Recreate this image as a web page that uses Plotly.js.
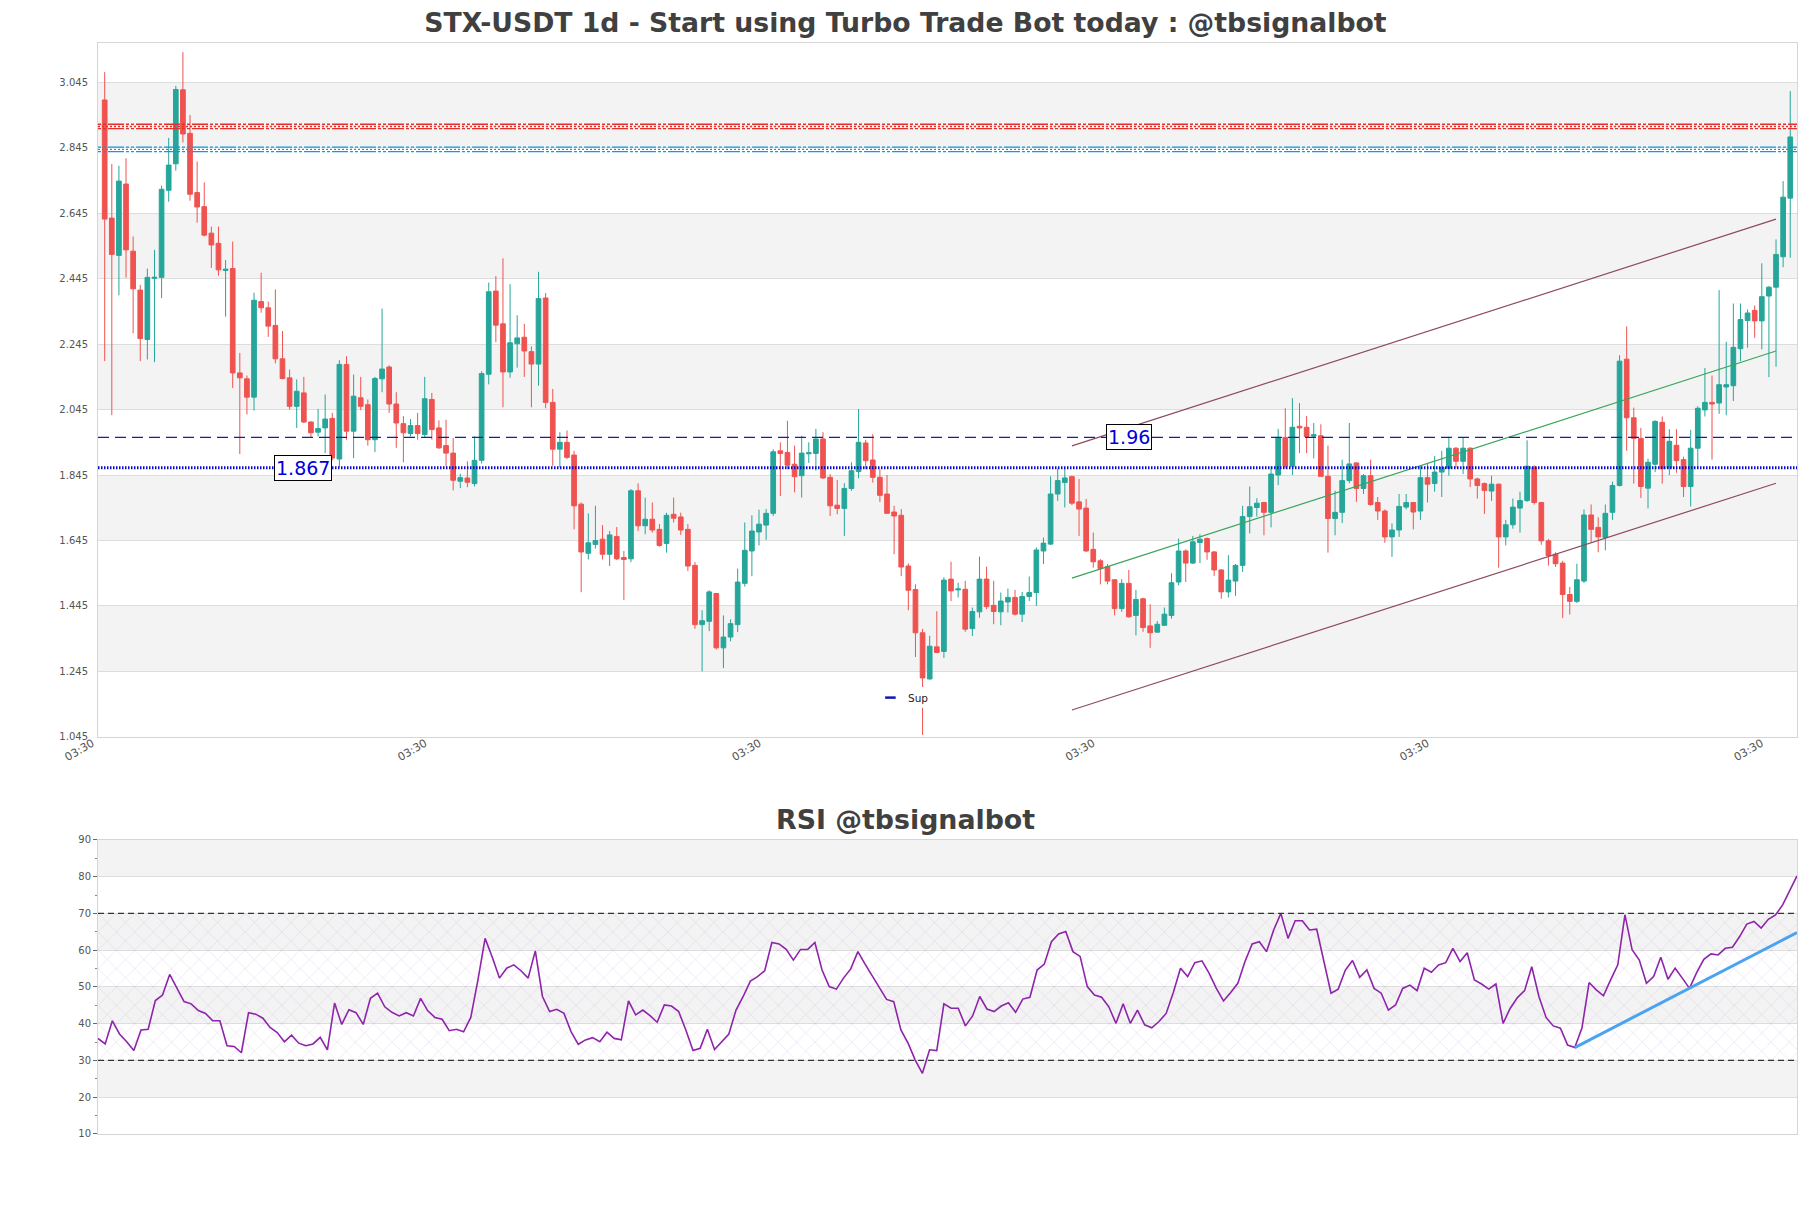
<!DOCTYPE html>
<html><head><meta charset="utf-8">
<script src="https://cdn.plot.ly/plotly-3.0.1.min.js"></script>
<style>html,body{margin:0;padding:0;background:#fff}#chart{width:1811px;height:1208px}</style>
</head><body><div id="chart"></div>
<script>
// ---------------- DATA ----------------
const opens = [2.991,2.630,2.516,2.734,2.529,2.410,2.259,2.446,2.449,2.715,
2.796,3.022,2.889,2.708,2.665,2.584,2.553,2.470,2.476,2.157,
2.139,2.083,2.375,2.356,2.302,2.200,2.142,2.055,2.096,2.007,
1.976,1.989,2.018,1.894,2.183,1.979,2.081,2.060,1.953,2.139,
2.175,2.062,2.002,1.972,1.996,1.969,2.076,1.989,1.935,1.912,
1.826,1.836,1.819,1.890,2.153,2.407,2.307,2.160,2.246,2.266,
2.222,2.184,2.386,2.067,1.924,1.945,1.906,1.756,1.606,1.633,
1.649,1.603,1.657,1.593,1.589,1.797,1.690,1.710,1.679,1.636,
1.725,1.717,1.679,1.569,1.388,1.398,1.483,1.317,1.350,1.388,
1.514,1.613,1.671,1.692,1.728,1.919,1.914,1.878,1.843,1.910,
1.911,1.955,1.838,1.753,1.743,1.804,1.856,1.943,1.891,1.838,
1.787,1.732,1.722,1.567,1.495,1.363,1.222,1.320,1.306,1.527,
1.494,1.496,1.376,1.427,1.527,1.447,1.427,1.457,1.471,1.420,
1.474,1.486,1.613,1.634,1.787,1.822,1.840,1.763,1.744,1.618,
1.583,1.565,1.525,1.437,1.514,1.416,1.467,1.384,1.365,1.386,
1.416,1.518,1.613,1.576,1.639,1.651,1.610,1.555,1.488,1.521,
1.569,1.718,1.746,1.761,1.731,1.845,1.960,1.872,1.994,1.991,
1.964,1.965,1.841,1.712,1.731,1.828,1.882,1.804,1.843,1.761,
1.735,1.656,1.677,1.747,1.761,1.735,1.837,1.819,1.854,1.866,
1.927,1.887,1.927,1.833,1.819,1.796,1.817,1.656,1.693,1.744,
1.767,1.869,1.761,1.644,1.603,1.576,1.480,1.459,1.521,1.723,
1.685,1.654,1.731,1.813,2.199,2.020,1.957,1.805,1.878,2.006,
1.866,1.936,1.892,1.810,1.927,2.044,2.067,2.065,2.114,2.118,
2.231,2.317,2.348,2.316,2.392,2.419,2.512,2.691];
const highs = [3.076,2.795,2.790,2.813,2.574,2.426,2.476,2.533,2.729,2.875,
3.034,3.137,2.945,2.803,2.739,2.604,2.604,2.502,2.558,2.218,
2.149,2.402,2.463,2.375,2.412,2.285,2.167,2.137,2.145,2.009,
2.047,2.091,2.035,2.196,2.208,2.152,2.145,2.076,2.145,2.354,
2.180,2.098,2.025,2.016,2.035,2.145,2.096,2.012,2.014,1.958,
1.849,1.887,1.963,2.162,2.433,2.453,2.507,2.428,2.333,2.307,
2.238,2.466,2.401,2.108,1.976,1.981,1.919,1.761,1.728,1.751,
1.692,1.674,1.686,1.613,1.802,1.820,1.776,1.761,1.695,1.730,
1.776,1.730,1.695,1.579,1.432,1.493,1.485,1.416,1.404,1.559,
1.700,1.722,1.739,1.741,1.924,1.945,2.011,1.935,1.965,1.945,
1.986,1.976,1.848,1.830,1.820,1.884,2.047,1.953,1.970,1.863,
1.845,1.751,1.741,1.575,1.511,1.375,1.354,1.429,1.533,1.580,
1.516,1.522,1.440,1.596,1.565,1.522,1.486,1.498,1.494,1.488,
1.535,1.624,1.654,1.841,1.865,1.865,1.843,1.833,1.772,1.669,
1.588,1.573,1.527,1.527,1.555,1.494,1.470,1.450,1.399,1.440,
1.545,1.651,1.618,1.659,1.664,1.654,1.613,1.557,1.600,1.573,
1.751,1.810,1.774,1.763,1.872,1.986,2.049,2.080,2.065,2.025,
2.004,2.000,1.935,1.797,1.892,2.004,1.884,1.848,1.892,1.778,
1.740,1.697,1.787,1.787,1.763,1.872,1.880,1.903,1.919,1.962,
1.930,1.960,1.930,1.837,1.822,1.843,1.819,1.708,1.773,1.794,
1.951,1.875,1.763,1.650,1.609,1.583,1.503,1.574,1.740,1.755,
1.716,1.755,1.825,2.211,2.299,2.051,1.989,1.895,2.012,2.024,
1.985,1.985,1.901,1.983,2.055,2.172,2.149,2.410,2.252,2.369,
2.369,2.351,2.363,2.492,2.422,2.565,2.743,3.018];
const lows = [2.193,2.028,2.394,2.448,2.278,2.193,2.198,2.190,2.386,2.680,
2.775,2.861,2.683,2.616,2.574,2.478,2.454,2.329,2.111,1.909,
2.030,2.042,2.341,2.267,2.186,2.137,2.045,1.989,2.004,1.961,
1.963,1.912,1.890,1.869,1.953,1.897,2.043,1.935,1.915,2.098,
2.035,1.928,1.884,1.963,1.953,1.961,1.953,1.925,1.872,1.798,
1.805,1.808,1.810,1.880,2.122,2.251,2.052,2.142,2.173,2.145,
2.052,2.118,2.049,1.873,1.868,1.894,1.679,1.487,1.587,1.620,
1.587,1.567,1.585,1.463,1.579,1.674,1.664,1.669,1.626,1.608,
1.700,1.662,1.552,1.375,1.245,1.368,1.312,1.255,1.337,1.365,
1.504,1.536,1.630,1.647,1.720,1.781,1.863,1.792,1.776,1.882,
1.858,1.833,1.720,1.725,1.659,1.797,1.835,1.863,1.822,1.763,
1.728,1.603,1.536,1.432,1.289,1.051,1.220,1.301,1.286,1.460,
1.471,1.366,1.353,1.409,1.435,1.389,1.386,1.425,1.416,1.396,
1.460,1.445,1.573,1.631,1.766,1.746,1.753,1.659,1.610,1.562,
1.511,1.511,1.416,1.427,1.409,1.355,1.366,1.317,1.363,1.384,
1.406,1.508,1.518,1.573,1.576,1.586,1.537,1.467,1.471,1.476,
1.549,1.667,1.718,1.661,1.685,1.814,1.865,1.845,1.912,1.912,
1.896,1.841,1.608,1.661,1.698,1.820,1.763,1.787,1.751,1.708,
1.638,1.595,1.656,1.740,1.679,1.708,1.761,1.794,1.778,1.843,
1.866,1.848,1.808,1.773,1.726,1.766,1.562,1.630,1.681,1.669,
1.763,1.755,1.632,1.568,1.564,1.408,1.419,1.454,1.515,1.638,
1.609,1.615,1.708,1.810,1.919,1.819,1.775,1.743,1.854,1.819,
1.845,1.852,1.778,1.749,1.866,2.024,1.892,2.032,2.028,2.071,
2.193,2.234,2.264,2.229,2.144,2.176,2.480,2.509];
const closes = [2.627,2.519,2.743,2.533,2.414,2.262,2.449,2.449,2.718,2.792,
3.023,2.887,2.703,2.664,2.578,2.548,2.472,2.474,2.157,2.142,
2.083,2.379,2.356,2.300,2.200,2.140,2.055,2.101,2.007,1.974,
1.987,2.016,1.897,2.183,1.979,2.086,2.055,1.953,2.140,2.169,
2.062,2.004,1.974,1.996,1.972,2.078,1.984,1.928,1.912,1.829,
1.837,1.823,1.890,2.155,2.405,2.303,2.160,2.249,2.264,2.224,
2.184,2.384,2.067,1.924,1.945,1.899,1.751,1.610,1.638,1.645,
1.603,1.662,1.589,1.587,1.797,1.690,1.710,1.677,1.630,1.722,
1.713,1.677,1.567,1.388,1.400,1.488,1.317,1.350,1.391,1.518,
1.615,1.674,1.695,1.728,1.916,1.911,1.875,1.840,1.912,1.913,
1.955,1.836,1.751,1.743,1.804,1.858,1.945,1.889,1.838,1.783,
1.728,1.720,1.564,1.493,1.363,1.225,1.322,1.303,1.524,1.491,
1.497,1.374,1.428,1.527,1.443,1.428,1.460,1.471,1.420,1.474,
1.486,1.616,1.637,1.787,1.828,1.836,1.759,1.741,1.613,1.580,
1.559,1.521,1.437,1.514,1.412,1.465,1.379,1.363,1.389,1.420,
1.516,1.613,1.576,1.641,1.649,1.610,1.555,1.488,1.524,1.569,
1.718,1.748,1.759,1.731,1.848,1.960,1.872,1.991,1.989,1.963,
1.968,1.841,1.712,1.731,1.828,1.879,1.804,1.843,1.755,1.735,
1.656,1.677,1.749,1.761,1.732,1.837,1.817,1.854,1.868,1.927,
1.887,1.927,1.833,1.813,1.798,1.817,1.656,1.693,1.747,1.767,
1.872,1.761,1.644,1.599,1.574,1.480,1.459,1.525,1.723,1.679,
1.656,1.728,1.813,2.193,2.020,1.957,1.810,1.884,2.009,1.864,
1.948,1.889,1.810,1.927,2.049,2.067,2.062,2.121,2.121,2.235,
2.320,2.340,2.316,2.390,2.419,2.519,2.694,2.878];
const rsi = [36.0,34.5,40.8,37.2,35.1,32.7,38.3,38.5,46.3,47.8,
53.4,49.9,46.0,45.4,43.6,42.8,40.8,40.8,34.0,33.8,
32.1,43.0,42.6,41.5,39.0,37.6,35.1,36.9,34.7,34.0,
34.5,36.3,32.9,45.6,39.8,43.8,43.0,39.8,46.9,48.3,
44.6,43.1,42.1,43.0,42.1,46.9,43.5,41.7,41.2,38.1,
38.5,37.8,41.7,51.9,63.2,58.1,52.4,55.1,56.0,54.4,
52.4,59.8,47.4,43.3,43.9,42.8,37.8,34.4,35.6,36.2,
35.1,37.7,36.0,35.6,46.2,42.4,43.7,42.2,40.4,45.1,
44.8,43.3,38.3,32.7,33.3,38.5,33.0,35.1,37.2,43.7,
47.4,51.6,52.8,54.4,62.1,61.7,60.2,57.3,60.2,60.2,
62.1,54.6,50.1,49.4,52.4,54.9,59.6,56.2,52.8,49.8,
46.6,46.0,38.3,34.7,30.1,26.5,32.9,32.7,45.4,44.2,
44.2,39.4,42.1,47.4,44.0,43.3,44.8,45.7,43.1,46.7,
47.2,54.6,56.2,62.3,64.4,65.1,59.6,58.3,50.1,47.8,
47.2,44.6,40.1,45.4,40.1,43.7,39.7,38.9,40.6,42.8,
48.5,55.1,52.8,56.6,57.1,53.7,49.6,46.2,48.5,51.0,
56.9,61.7,62.3,59.6,65.5,70.0,63.2,68.0,68.0,65.5,
65.7,56.9,48.3,49.4,54.6,57.2,52.6,54.6,49.6,48.3,
43.7,45.1,49.6,50.5,49.0,55.1,54.0,56.0,56.6,60.5,
56.9,59.3,51.9,50.8,49.4,50.8,40.1,44.2,47.1,49.0,
55.5,47.4,41.7,39.4,38.8,34.2,33.5,38.8,51.2,49.2,
47.6,51.9,56.0,69.6,60.1,57.3,51.0,52.8,58.1,52.1,
55.1,52.4,49.6,53.9,57.5,59.0,58.7,60.5,60.8,63.7,
67.1,67.8,66.0,68.4,69.6,72.3,76.4,80.2];

const priceTicks = [1.045,1.245,1.445,1.645,1.845,2.045,2.245,2.445,2.645,2.845,3.045];
const priceTickLabels = ['1.045','1.245','1.445','1.645','1.845','2.045','2.245','2.445','2.645','2.845','3.045'];
const timeTickPos = [-0.9, 45.9, 92.9, 139.8, 186.8, 233.8];
const timeTickLabels = ['03:30','03:30','03:30','03:30','03:30','03:30'];
const rsiTicks = [10,20,30,40,50,60,70,80,90];

const resistRed = 2.910;
const resistBlue = 2.840;
const level196 = 1.96;
const supportLevel = 1.867;
const channelX = [136, 235];
const channelUpper = [1.934, 2.627];
const channelMid = [1.530, 2.224];
const channelLower = [1.127, 1.820];
const rsiTrendX = [206, 237];
const rsiTrendY = [33.5, 64.8];
const rsiLow = 30, rsiHigh = 70;

// ---------------- BUILD ----------------
const idx = opens.map((_, i) => i);
const FONT = 'DejaVu Sans, Verdana, sans-serif';
const xMin = -0.94, xMax = 237.95;

const traces = [];
traces.push({
  type: 'candlestick', x: idx, open: opens, high: highs, low: lows, close: closes,
  xaxis: 'x', yaxis: 'y',
  increasing: {line: {color: '#26a69a', width: 1}, fillcolor: '#26a69a'},
  decreasing: {line: {color: '#ef5350', width: 1}, fillcolor: '#ef5350'},
  whiskerwidth: 0, showlegend: false, hoverinfo: 'skip'
});
function seg(x, y, color, width, ax, ay) {
  return {type: 'scatter', mode: 'lines', x: x, y: y, xaxis: ax || 'x', yaxis: ay || 'y',
    line: {color: color, width: width}, showlegend: false, hoverinfo: 'skip'};
}
traces.push(seg(channelX, channelUpper, '#8e4a5c', 1.2));
traces.push(seg(channelX, channelLower, '#8e4a5c', 1.2));
traces.push(seg(channelX, channelMid, '#3aa55a', 1.2));

// RSI hatch band
const rsiXEnd = rsi.length - 1;
traces.push({
  type: 'scatter', mode: 'lines', xaxis: 'x2', yaxis: 'y2',
  x: [0, rsiXEnd, rsiXEnd, 0, 0], y: [rsiLow, rsiLow, rsiHigh, rsiHigh, rsiLow],
  fill: 'toself', fillcolor: 'rgba(0,0,0,0)',
  fillpattern: {shape: 'x', fgcolor: 'rgba(175,145,210,0.35)', size: 13, solidity: 0.08},
  line: {width: 0, color: 'rgba(0,0,0,0)'}, showlegend: false, hoverinfo: 'skip'
});
traces.push({
  type: 'scatter', mode: 'lines', x: idx, y: rsi, xaxis: 'x2', yaxis: 'y2',
  line: {color: '#8e24aa', width: 1.6}, showlegend: false, hoverinfo: 'skip'
});
traces.push(seg(rsiTrendX, rsiTrendY, '#4aa3f0', 3, 'x2', 'y2'));

const shapes = [];
// alternating bands main
for (let k = 0; k < priceTicks.length - 1; k++) {
  if ((priceTicks.length - 2 - k) % 2 === 0) {
    shapes.push({type: 'rect', xref: 'paper', yref: 'y', x0: 0, x1: 1,
      y0: priceTicks[k], y1: priceTicks[k + 1], fillcolor: '#f3f3f3', line: {width: 0}, layer: 'below'});
  }
}
// RSI bands
[[80, 90], [60, 70], [40, 50], [20, 30]].forEach(b => {
  shapes.push({type: 'rect', xref: 'paper', yref: 'y2', x0: 0, x1: 1, y0: b[0], y1: b[1],
    fillcolor: '#f3f3f3', line: {width: 0}, layer: 'below'});
});
function hline(y, yref, color, width, dash, layer) {
  return {type: 'line', xref: 'paper', yref: yref, x0: 0, x1: 1, y0: y, y1: y,
    line: {color: color, width: width, dash: dash}, layer: layer || 'above'};
}
// hatched-like resistance lines
function hatched(level, color) {
  const off = 0.0068;
  shapes.push(hline(level + off, 'y', color, 1.3, '3px,2px,3px,2px,16px,2px'));
  shapes.push(hline(level - off, 'y', color, 1.3, '3px,2px,3px,2px,16px,2px'));
  shapes.push(hline(level, 'y', color, 1.4, '2px,2px'));
}
hatched(resistRed, '#e4312b');
hatched(resistBlue, '#1996d4');
shapes.push(hline(level196, 'y', '#1c1ca8', 1.3, '11px,6px'));
shapes.push(hline(supportLevel, 'y', '#0a0ad0', 3, '1.5px,1.5px'));
shapes.push(hline(rsiHigh, 'y2', '#333333', 1.2, '6px,4px'));
shapes.push(hline(rsiLow, 'y2', '#333333', 1.2, '6px,4px'));
// legend box for "Sup"
shapes.push({type: 'rect', xref: 'paper', yref: 'paper', x0: 0.4604, x1: 0.4915, y0: 0.3906, y1: 0.4098,
  fillcolor: '#ffffff', line: {width: 0}, layer: 'above'});
shapes.push({type: 'line', xref: 'paper', yref: 'paper', x0: 0.4633, x1: 0.4695, y0: 0.4000, y1: 0.4000,
  line: {color: '#1515b0', width: 2.5}, layer: 'above'});

const annotations = [
  {text: '<b>RSI @tbsignalbot</b>', xref: 'paper', yref: 'paper', x: 0.4753, y: 0.2879,
   xanchor: 'center', yanchor: 'middle', showarrow: false,
   font: {family: FONT, size: 26.8, color: '#404040'}},
  {text: supportLevel.toFixed(3), xref: 'x', yref: 'y', x: 27.9, y: supportLevel,
   xanchor: 'center', yanchor: 'middle', showarrow: false, bgcolor: '#ffffff',
   bordercolor: '#000000', borderwidth: 1, borderpad: 1,
   font: {family: FONT, size: 19, color: '#0000dd'}},
  {text: String(level196), xref: 'x', yref: 'y', x: 144, y: level196,
   xanchor: 'center', yanchor: 'middle', showarrow: false, bgcolor: '#ffffff',
   bordercolor: '#000000', borderwidth: 1, borderpad: 1,
   font: {family: FONT, size: 19, color: '#0000dd'}},
  {text: 'Sup', xref: 'paper', yref: 'paper', x: 0.4757, y: 0.4000,
   xanchor: 'left', yanchor: 'middle', showarrow: false,
   font: {family: FONT, size: 10.5, color: '#222222'}}
];

const layout = {
  width: 1811, height: 1208,
  margin: {l: 97.6, r: 13.5, t: 43.3, b: 74},
  paper_bgcolor: '#ffffff', plot_bgcolor: '#ffffff',
  font: {family: FONT, color: '#555555', size: 10},
  title: {text: '<b>STX-USDT 1d - Start using Turbo Trade Bot today : @tbsignalbot</b>',
    font: {family: FONT, size: 26.7, color: '#404040'},
    x: 0.5, xref: 'container', xanchor: 'center', y: 0.9812, yref: 'container', yanchor: 'middle'},
  showlegend: false,
  boxgap: 0.1, boxgroupgap: 0.27,
  xaxis: {domain: [0, 1], anchor: 'y', range: [xMin, xMax], tickmode: 'array',
    tickvals: timeTickPos, ticktext: timeTickLabels, tickangle: -30,
    tickfont: {family: FONT, size: 11, color: '#555555'},
    ticklabelshift: -6, ticklabelstandoff: -5,
    showgrid: false, zeroline: false, showline: true, mirror: true, linecolor: '#d6d6d6', linewidth: 1,
    ticks: '', rangeslider: {visible: false}, fixedrange: true},
  yaxis: {domain: [0.364, 1], anchor: 'x', range: [1.045, 3.165], tickmode: 'array',
    tickvals: priceTicks, ticktext: priceTickLabels,
    tickfont: {family: FONT, size: 10, color: '#555555'},
    ticks: 'outside', ticklen: 7, tickcolor: 'rgba(0,0,0,0)',
    showgrid: true, gridcolor: '#dddddd', gridwidth: 1, zeroline: false,
    showline: true, mirror: true, linecolor: '#d6d6d6', fixedrange: true},
  xaxis2: {domain: [0, 1], anchor: 'y2', range: [0, rsiXEnd], showticklabels: false,
    showgrid: false, zeroline: false, showline: true, mirror: true, linecolor: '#d6d6d6', ticks: '', fixedrange: true},
  yaxis2: {domain: [0, 0.2696], anchor: 'x2', range: [10, 90], tickmode: 'array', tickvals: rsiTicks,
    tickfont: {family: FONT, size: 10, color: '#555555'},
    ticks: 'outside', ticklen: 4, tickcolor: '#666666', tickwidth: 1,
    minor: {dtick: 5, tick0: 5, ticks: 'outside', ticklen: 2, tickcolor: '#888888', showgrid: false},
    showgrid: true, gridcolor: '#dddddd', zeroline: false,
    showline: true, mirror: true, linecolor: '#d6d6d6', fixedrange: true},
  shapes: shapes,
  annotations: annotations
};

Plotly.newPlot('chart', traces, layout, {displayModeBar: false, staticPlot: true});
</script>
</body></html>
